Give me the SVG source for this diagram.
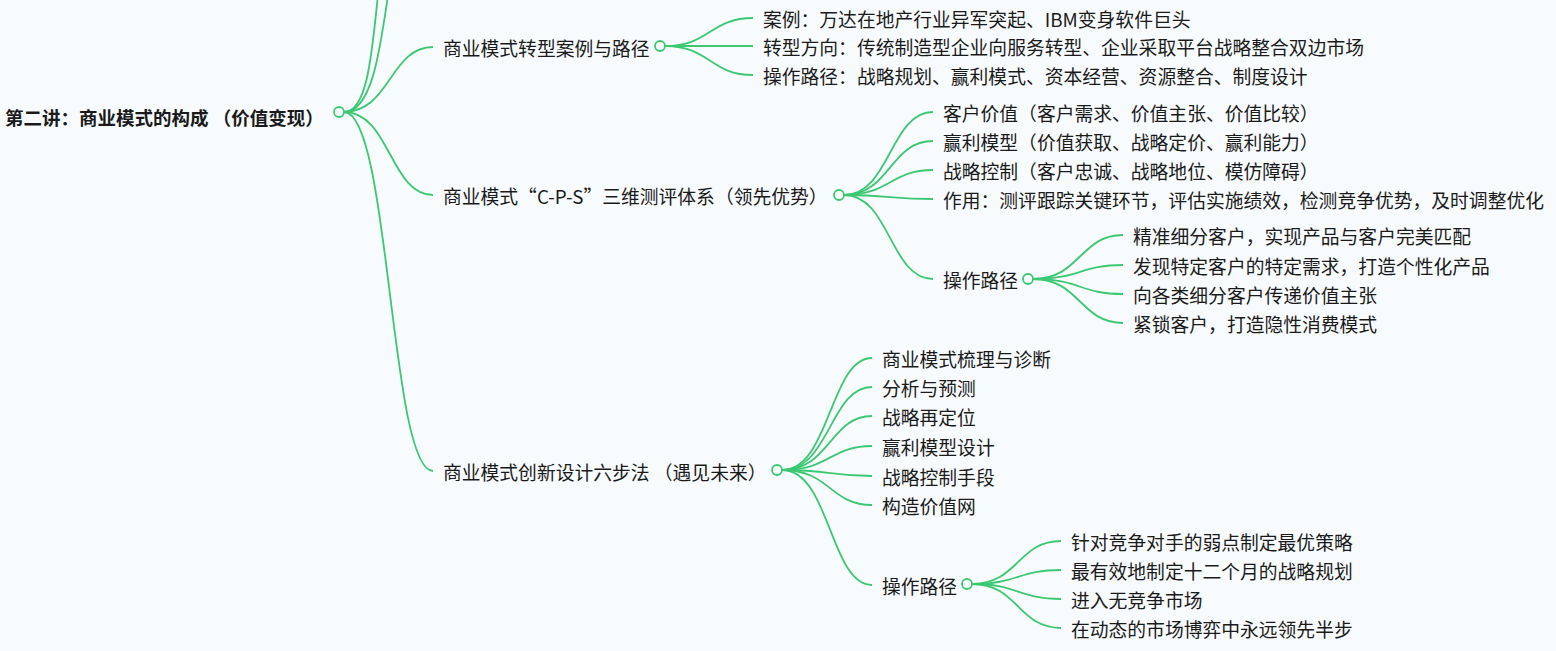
<svg xmlns="http://www.w3.org/2000/svg" width="1556" height="651" viewBox="0 0 1556 651">
<style>
.e{fill:none;stroke:#3cc873;stroke-width:1.8}
.c{fill:#fff;stroke:#3cc873;stroke-width:1.8}
text{font-family:"Noto Sans CJK SC","Noto Sans",sans-serif;font-size:18.8px;fill:#1a1a1a;dominant-baseline:central}
.r{font-weight:bold;font-size:18.5px}
</style>
<rect width="1556" height="651" fill="#f8fbfd"/>
<g id="connectors">
<path class="e" d="M344,112 C368,112 372,50 378,-5"/>
<path class="e" d="M344,112 C372,112 380,50 388,-5"/>
<path class="e" d="M344,112 C390,112 390,47 433,47"/>
<path class="e" d="M344,112 C390,112 390,195 433,195"/>
<path class="e" d="M344,112 C390,112 390,471 433,471"/>
<path class="e" d="M665,46 C710,46 710,18 753,18"/>
<path class="e" d="M665,46 L753,46"/>
<path class="e" d="M665,46 C710,46 710,75 753,75"/>
<path class="e" d="M844,195 C890,195 890,112 933,112"/>
<path class="e" d="M844,195 C890,195 890,141 933,141"/>
<path class="e" d="M844,195 C890,195 890,170 933,170"/>
<path class="e" d="M844,195 C890,195 890,199 933,199"/>
<path class="e" d="M844,195 C890,195 890,279 933,279"/>
<path class="e" d="M1033,279 C1080,279 1080,235 1123,235"/>
<path class="e" d="M1033,279 C1080,279 1080,265 1123,265"/>
<path class="e" d="M1033,279 C1080,279 1080,294 1123,294"/>
<path class="e" d="M1033,279 C1080,279 1080,323 1123,323"/>
<path class="e" d="M782,470 C830,470 830,358 872,358"/>
<path class="e" d="M782,470 C830,470 830,387 872,387"/>
<path class="e" d="M782,470 C830,470 830,416 872,416"/>
<path class="e" d="M782,470 C830,470 830,446 872,446"/>
<path class="e" d="M782,470 C830,470 830,476 872,476"/>
<path class="e" d="M782,470 C830,470 830,505 872,505"/>
<path class="e" d="M782,470 C830,470 830,585 872,585"/>
<path class="e" d="M972,584 C1018,584 1018,541 1061,541"/>
<path class="e" d="M972,584 C1018,584 1018,570 1061,570"/>
<path class="e" d="M972,584 C1018,584 1018,599 1061,599"/>
<path class="e" d="M972,584 C1018,584 1018,628 1061,628"/>
</g>
<g id="root"><text class="r" x="5" y="117">第二讲：商业模式的构成 （价值变现）</text><circle class="c" cx="339" cy="112" r="5"/></g>
<g id="n1"><text x="443" y="47">商业模式转型案例与路径</text><circle class="c" cx="660" cy="46" r="5"/></g>
<g id="n1a"><text x="763" y="18">案例：万达在地产行业异军突起、IBM变身软件巨头</text></g>
<g id="n1b"><text x="763" y="46">转型方向：传统制造型企业向服务转型、企业采取平台战略整合双边市场</text></g>
<g id="n1c"><text x="763" y="75">操作路径：战略规划、赢利模式、资本经营、资源整合、制度设计</text></g>
<g id="n2"><text x="443" y="195">商业模式“C-P-S”三维测评体系（领先优势）</text><circle class="c" cx="839" cy="195" r="5"/></g>
<g id="n2a"><text x="943" y="112">客户价值（客户需求、价值主张、价值比较）</text></g>
<g id="n2b"><text x="943" y="141">赢利模型（价值获取、战略定价、赢利能力）</text></g>
<g id="n2c"><text x="943" y="170">战略控制（客户忠诚、战略地位、模仿障碍）</text></g>
<g id="n2d"><text x="943" y="199">作用：测评跟踪关键环节，评估实施绩效，检测竞争优势，及时调整优化</text></g>
<g id="n2e"><text x="943" y="279">操作路径</text><circle class="c" cx="1028" cy="279" r="5"/></g>
<g id="n2e1"><text x="1133" y="235">精准细分客户，实现产品与客户完美匹配</text></g>
<g id="n2e2"><text x="1133" y="265">发现特定客户的特定需求，打造个性化产品</text></g>
<g id="n2e3"><text x="1133" y="294">向各类细分客户传递价值主张</text></g>
<g id="n2e4"><text x="1133" y="323">紧锁客户，打造隐性消费模式</text></g>
<g id="n3"><text x="443" y="471">商业模式创新设计六步法 （遇见未来）</text><circle class="c" cx="777" cy="470" r="5"/></g>
<g id="n3a"><text x="882" y="358">商业模式梳理与诊断</text></g>
<g id="n3b"><text x="882" y="387">分析与预测</text></g>
<g id="n3c"><text x="882" y="416">战略再定位</text></g>
<g id="n3d"><text x="882" y="446">赢利模型设计</text></g>
<g id="n3e"><text x="882" y="476">战略控制手段</text></g>
<g id="n3f"><text x="882" y="505">构造价值网</text></g>
<g id="n3g"><text x="882" y="585">操作路径</text><circle class="c" cx="967" cy="584" r="5"/></g>
<g id="n3g1"><text x="1071" y="541">针对竞争对手的弱点制定最优策略</text></g>
<g id="n3g2"><text x="1071" y="570">最有效地制定十二个月的战略规划</text></g>
<g id="n3g3"><text x="1071" y="599">进入无竞争市场</text></g>
<g id="n3g4"><text x="1071" y="628">在动态的市场博弈中永远领先半步</text></g>
</svg>
